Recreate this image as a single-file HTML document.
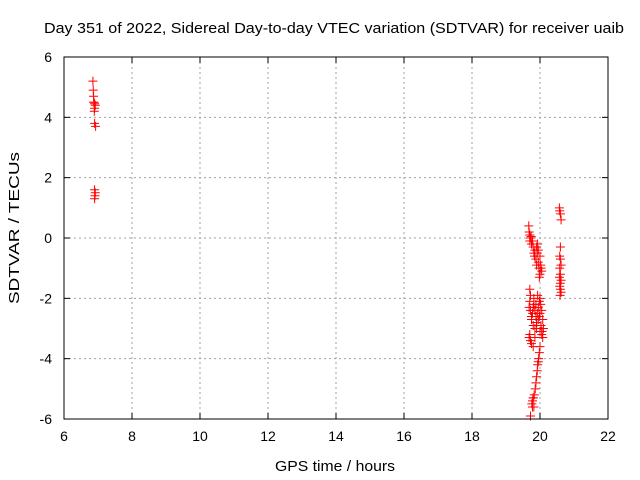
<!DOCTYPE html>
<html><head><meta charset="utf-8"><style>
body{margin:0;background:#fff}
svg{display:block;font-family:"Liberation Sans",sans-serif}
</style></head><body>
<svg id="c" width="640" height="480">
<rect width="640" height="480" fill="#fff"/>
<text x="334" y="33" font-size="15" text-anchor="middle" textLength="580" lengthAdjust="spacingAndGlyphs">Day 351 of 2022, Sidereal Day-to-day VTEC variation (SDTVAR) for receiver uaib</text>
<text x="335" y="471" font-size="15" text-anchor="middle" textLength="120" lengthAdjust="spacingAndGlyphs">GPS time / hours</text>
<text x="19" y="228" font-size="15" text-anchor="middle" textLength="152" lengthAdjust="spacingAndGlyphs" transform="rotate(-90 19 228)">SDTVAR / TECUs</text>
<g id="grid"></g><g id="pts"></g>
<rect x="64" y="57" width="544" height="362" fill="none" stroke="#000" stroke-width="1"/>
</svg>
<script>
const xTicks=[6,8,10,12,14,16,18,20,22];
const yTicks=[-6,-4,-2,0,2,4,6];
const xs=[6.85,6.86,6.87,6.88,6.9,6.92,6.88,6.9,6.89,6.9,6.93,6.9,6.92,6.91,6.9,
19.67,19.68,19.7,19.72,19.7,19.74,19.75,19.78,19.8,19.82,19.85,19.84,19.88,19.9,19.92,19.95,19.97,20.0,20.02,20.05,19.9,19.95,20.0,20.03,19.93,19.98,
19.7,19.72,19.7,19.68,19.72,19.75,19.78,19.8,19.82,19.85,19.88,19.9,19.92,19.95,19.98,20.0,20.02,20.05,20.08,20.1,20.05,20.0,19.75,19.8,19.85,19.9,19.7,19.72,19.68,19.75,19.8,19.85,19.9,19.95,20.0,20.03,20.06,20.08,19.82,19.88,19.93,19.98,
20.0,19.98,19.96,19.95,19.93,19.92,19.9,19.88,19.86,19.83,19.8,19.78,19.76,19.78,19.8,19.82,19.72,
20.57,20.58,20.6,20.62,20.6,20.58,20.6,20.62,20.58,20.6,20.57,20.62,20.6,20.58,20.6,20.62,20.59];
const ys=[5.2,4.9,4.7,4.5,4.45,4.4,4.5,4.3,4.2,3.8,3.7,1.6,1.5,1.4,1.3,
0.4,0.2,0.1,0.0,-0.1,0.05,-0.2,-0.1,-0.3,-0.5,-0.4,-0.6,-0.7,-0.9,-0.5,-0.8,-1.0,-1.2,-0.9,-1.1,-0.3,-0.4,-0.6,-1.0,-0.2,-1.3,
-1.7,-1.9,-2.1,-2.3,-2.4,-2.6,-2.5,-2.3,-2.2,-2.4,-2.6,-2.8,-2.5,-2.3,-2.1,-2.0,-2.2,-2.4,-2.7,-3.0,-3.2,-3.1,-2.7,-2.9,-3.0,-2.8,-3.2,-3.4,-3.3,-3.5,-3.6,-3.3,-3.0,-2.7,-2.5,-2.9,-3.1,-3.3,-2.0,-2.2,-1.9,-2.6,
-3.6,-3.8,-4.0,-4.1,-4.2,-4.4,-4.6,-4.8,-5.0,-5.2,-5.3,-5.4,-5.5,-5.6,-5.3,-5.6,-5.9,
1.0,0.9,0.8,0.6,-0.3,-0.6,-0.7,-0.9,-1.0,-1.2,-1.3,-1.4,-1.5,-1.6,-1.7,-1.8,-1.9];
const X=h=>64+(h-6)*34, Y=v=>238-v*30.17;
const ns="http://www.w3.org/2000/svg";
const g=document.getElementById('grid'),p=document.getElementById('pts');
function mk(tag,at,par){const e=document.createElementNS(ns,tag);for(const k in at)e.setAttribute(k,at[k]);par.appendChild(e);return e;}
xTicks.forEach(t=>{const x=X(t);
 if(t>6&&t<22){const l=mk('line',{x1:x,x2:x,y1:57,y2:419,stroke:'#a0a0a0','stroke-dasharray':'2,3'},g);
 
 }
 mk('line',{x1:x,x2:x,y1:419,y2:413,stroke:'#000'},g);mk('line',{x1:x,x2:x,y1:57,y2:63,stroke:'#000'},g);
 const tx=mk('text',{x:x,y:441,'font-size':14,'text-anchor':'middle'},g);tx.textContent=t;
 
 });
yTicks.forEach(t=>{const y=Y(t);
 if(t>-6&&t<6){const l=mk('line',{x1:64,x2:608,y1:y,y2:y,stroke:'#a0a0a0','stroke-dasharray':'2,3'},g);
 
 }
 mk('line',{x1:64,x2:70,y1:y,y2:y,stroke:'#000'},g);mk('line',{x1:608,x2:602,y1:y,y2:y,stroke:'#000'},g);
 const tx=mk('text',{x:52,y:y+5,'font-size':14,'text-anchor':'end'},g);tx.textContent=t;
 
 });
xs.forEach((h,i)=>{const x=X(h),y=Y(ys[i]);
 const e=mk('path',{d:`M${x-4.5},${y}H${x+4.5}M${x},${y-4.5}V${y+4.5}`,stroke:'#f00','stroke-width':1,fill:'none'},p);
 
 });
</script>
</body></html>
